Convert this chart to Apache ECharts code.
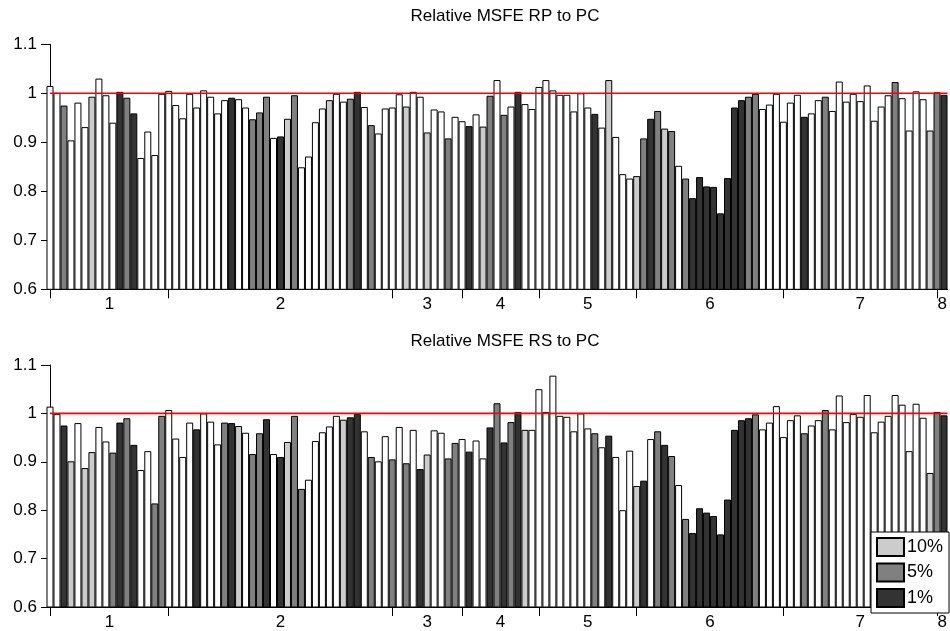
<!DOCTYPE html>
<html><head><meta charset="utf-8">
<script src="https://cdn.jsdelivr.net/npm/echarts@6/dist/echarts.min.js"></script>
<style>html,body{margin:0;padding:0;background:#fff}#c{width:950px;height:631px}</style>
</head><body><div id="c"></div>
<script>
// significance classes: 0 = none, 1 = 10%, 2 = 5%, 3 = 1%
const rpValues = [1.015,1.001,0.975,0.904,0.981,0.931,0.993,1.030,0.996,0.940,1.003,0.991,0.959,0.868,0.922,0.874,0.999,1.005,0.976,0.949,
0.999,0.971,1.006,0.993,0.959,0.986,0.991,0.988,0.971,0.947,0.961,0.993,0.909,0.912,0.948,0.996,0.849,0.871,0.941,0.969,
0.986,0.999,0.983,0.989,1.003,0.972,0.935,0.918,0.969,0.971,0.998,0.973,1.003,0.993,0.920,0.967,0.963,0.908,0.952,0.943,
0.933,0.957,0.932,0.995,1.027,0.956,0.973,1.003,0.978,0.968,1.013,1.027,1.006,0.997,0.997,0.963,1.000,0.971,0.958,0.930,
1.027,0.911,0.835,0.826,0.831,0.908,0.948,0.964,0.928,0.923,0.852,0.826,0.786,0.829,0.810,0.809,0.755,0.827,0.971,0.986,
0.993,0.999,0.968,0.977,0.999,0.942,0.981,0.997,0.952,0.959,0.986,0.993,0.964,1.024,0.983,0.999,0.984,1.016,0.944,0.973,
0.996,1.023,0.990,0.924,1.004,0.988,0.924,1.002,0.997];
const rpSig = [0,0,2,0,0,0,1,0,0,0,3,2,3,0,0,0,0,0,0,0,
0,0,0,0,0,0,3,0,0,2,2,2,0,3,1,2,0,0,0,0,
1,0,0,2,3,0,2,0,0,0,0,1,0,0,1,0,0,2,0,0,
3,0,1,2,0,2,0,3,0,0,0,0,0,0,0,0,0,0,3,0,
1,0,0,0,1,2,3,2,1,2,0,2,3,3,3,3,3,3,3,3,
2,2,0,0,0,0,0,0,3,0,0,2,0,0,0,0,0,0,0,0,
0,2,0,0,0,0,1,2,3];
const rsValues = [1.014,0.999,0.975,0.901,0.980,0.887,0.920,0.972,0.942,0.919,0.981,0.990,0.935,0.883,0.922,0.814,0.995,1.007,0.948,0.910,
0.981,0.967,1.000,0.983,0.936,0.981,0.980,0.974,0.960,0.916,0.959,0.988,0.916,0.910,0.941,0.995,0.844,0.863,0.943,0.961,
0.973,0.995,0.987,0.992,0.999,0.963,0.910,0.901,0.953,0.905,0.972,0.897,0.966,0.885,0.915,0.965,0.960,0.907,0.939,0.947,
0.921,0.944,0.907,0.971,1.021,0.940,0.982,1.003,0.966,0.966,1.050,1.003,1.078,0.995,0.993,0.963,1.000,0.969,0.959,0.930,
0.954,0.910,0.800,0.923,0.850,0.861,0.947,0.963,0.935,0.912,0.852,0.782,0.753,0.804,0.795,0.788,0.750,0.822,0.966,0.986,
0.990,0.998,0.967,0.981,1.015,0.951,0.986,0.996,0.959,0.975,0.986,1.007,0.967,1.037,0.982,0.999,0.993,1.038,0.961,0.983,
0.995,1.038,1.018,0.922,1.020,0.991,0.877,1.003,0.996];
const rsSig = [0,0,3,1,0,1,1,0,0,2,3,2,3,0,0,2,2,0,0,0,
0,3,0,0,0,2,3,1,0,2,2,3,0,3,1,2,2,0,0,0,
0,0,1,3,3,0,2,0,0,2,0,2,0,3,1,0,0,2,2,0,
3,0,0,3,2,3,2,3,1,0,0,0,0,0,0,0,0,0,2,0,
3,0,0,0,1,3,0,2,3,2,0,2,3,3,3,3,3,3,3,3,
3,2,0,0,0,0,0,0,2,0,0,2,0,0,0,0,0,0,0,0,
0,0,0,0,0,0,1,2,3];
const groupTicks = [1, 18, 50, 60, 71, 85, 106, 128];
const groupLabelPos = [9.5, 34, 55, 65.5, 78, 95.5, 117, 128.75];
const groupLabels = ['1','2','3','4','5','6','7','8'];
const referenceLevel = [1, 1];
const referenceSpan = [1, 129.5];
const sigNames = ['none', '10%', '5%', '1%'];
const panelTitles = ['Relative MSFE RP to PC', 'Relative MSFE RS to PC'];

const sigColors = ['#ffffff', '#cccccc', '#808080', '#333333'];
const FONT = 'Liberation Sans, Arial, sans-serif';
const chart = echarts.init(document.getElementById('c'), null, {renderer: 'canvas'});

const grids = [
  {left: 50, right: 0, top: 44.3, height: 245},
  {left: 50, right: 0, top: 365, height: 245}
];
const xAxes = [], yAxes = [], series = [];
[0, 1].forEach(p => {
  xAxes.push({
    type: 'value', gridIndex: p, min: 1, max: 129.5,
    axisLine: {show: true, lineStyle: {color: '#000', width: 1}},
    axisTick: {show: true, customValues: groupTicks, length: 9, inside: false, lineStyle: {color: '#000'}},
    axisLabel: {show: true, customValues: groupLabelPos, margin: 7, color: '#000', fontSize: 17, fontFamily: FONT,
      formatter: v => { const i = groupLabelPos.indexOf(v); return i >= 0 ? groupLabels[i] : ''; }},
    splitLine: {show: false}
  });
  yAxes.push({
    type: 'value', gridIndex: p, min: 0.6, max: 1.1, interval: 0.1,
    axisLine: {show: true, lineStyle: {color: '#000', width: 1}},
    axisTick: {show: true, length: 9, lineStyle: {color: '#000'}},
    axisLabel: {margin: 13, color: '#000', fontSize: 17, fontFamily: FONT},
    splitLine: {show: false}
  });
  const vals = p === 0 ? rpValues : rsValues;
  const sig = p === 0 ? rpSig : rsSig;
  [0, 1, 2, 3].forEach(c => {
    const data = [];
    vals.forEach((v, i) => { if (sig[i] === c) data.push([i + 1, v]); });
    series.push({
      name: sigNames[c], type: 'bar', xAxisIndex: p, yAxisIndex: p,
      barWidth: 7, barGap: '-100%', data: data, animation: false,
      itemStyle: {color: sigColors[c], borderColor: '#000', borderWidth: 1},
      emphasis: {disabled: true}
    });
  });
  series.push({
    name: 'ref', type: 'line', xAxisIndex: p, yAxisIndex: p, z: 5,
    data: referenceSpan.map((x, j) => [x, referenceLevel[j]]),
    symbol: 'none', silent: true, animation: false,
    lineStyle: {color: '#ff0000', width: 1.6, type: 'solid'},
    itemStyle: {color: '#ff0000'},
    emphasis: {disabled: true}
  });
});

chart.setOption({
  animation: false,
  backgroundColor: '#fff',
  title: panelTitles.map((t, i) => ({
    text: t, left: 500, textAlign: 'center', top: i === 0 ? 3 : 328,
    textStyle: {fontSize: 17, fontWeight: 'normal', color: '#000', fontFamily: FONT}
  })),
  legend: {
    data: ['10%', '5%', '1%'], orient: 'vertical', left: 871, top: 532,
    itemWidth: 27, itemHeight: 18, itemGap: 5.5, icon: 'rect',
    padding: [5, 6, 5, 5], backgroundColor: '#fff', borderColor: '#000', borderWidth: 1,
    textStyle: {fontSize: 18, color: '#000', fontFamily: FONT, padding: [0, 0, 0, -2]},
    selectedMode: false
  },
  grid: grids,
  xAxis: xAxes,
  yAxis: yAxes,
  series: series
});
</script></body></html>
